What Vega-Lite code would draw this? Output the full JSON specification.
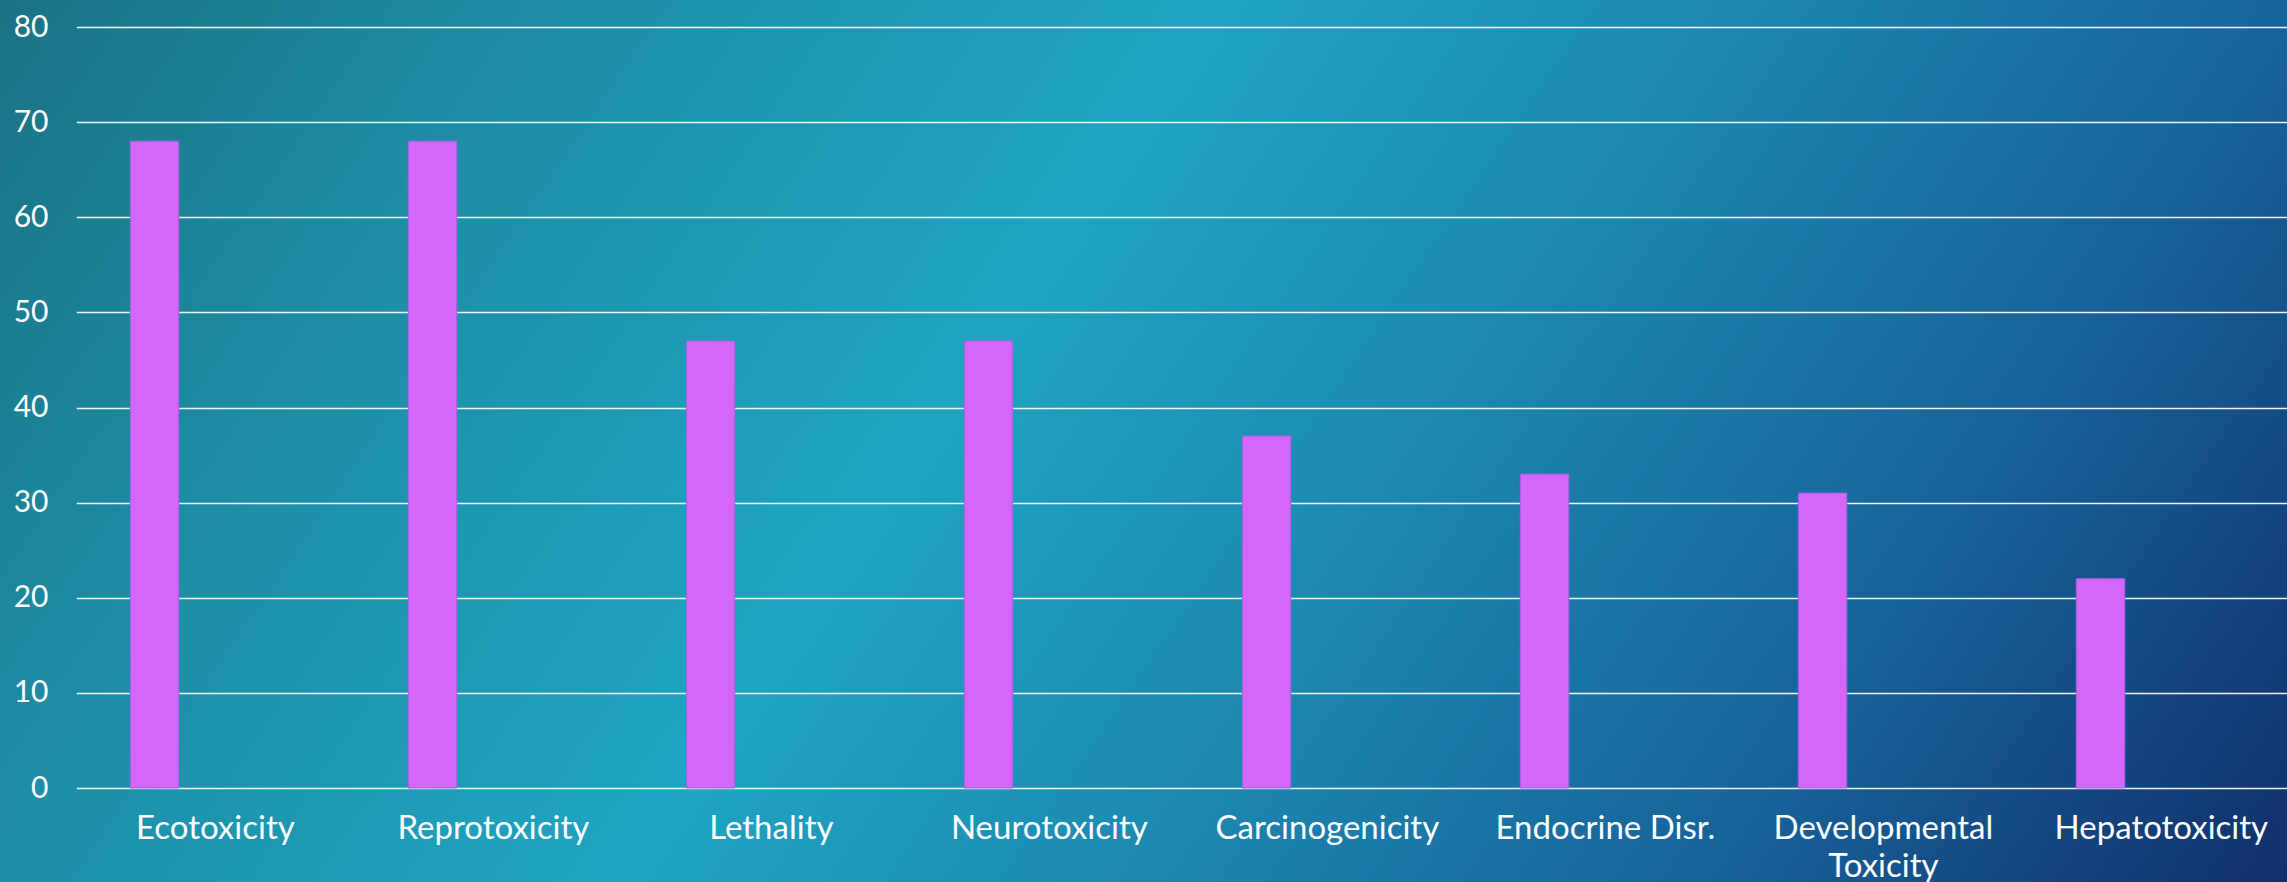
{
  "$schema": "https://vega.github.io/schema/vega-lite/v6.json",
  "width": 2287,
  "height": 882,
  "autosize": "none",
  "padding": 0,
  "background": "#1c8aa3",
  "config": {
    "font": "Lato",
    "view": {
      "stroke": null,
      "fill": {
        "gradient": "linear",
        "x1": 0, "y1": 0, "x2": 1.181, "y2": 0.31,
        "stops": [
          {"offset": 0, "color": "#1a7384"},
          {"offset": 0.2, "color": "#1d8ea6"},
          {"offset": 0.42, "color": "#1fa5c2"},
          {"offset": 0.6, "color": "#1c88b0"},
          {"offset": 0.8, "color": "#17629a"},
          {"offset": 1, "color": "#112f6b"}
        ]
      },
      "fillOpacity": 1
    }
  },
  "data": {
    "values": [
      {"category": "Ecotoxicity", "value": 68},
      {"category": "Reprotoxicity", "value": 68},
      {"category": "Lethality", "value": 47},
      {"category": "Neurotoxicity", "value": 47},
      {"category": "Carcinogenicity", "value": 37},
      {"category": "Endocrine Disr.", "value": 33},
      {"category": "Developmental Toxicity", "value": 31},
      {"category": "Hepatotoxicity", "value": 22}
    ]
  },
  "mark": {"type": "bar", "color": "#d466f8", "stroke": "#9d62e6", "strokeWidth": 1},
  "encoding": {
    "x": {
      "field": "category",
      "type": "nominal",
      "sort": null,
      "scale": {"range": [76.3, 2300.3], "paddingInner": 0.8255, "paddingOuter": 0.41275, "align": 0.2353},
      "axis": {
        "title": null,
        "offset": -94,
        "domain": false,
        "ticks": false,
        "tickSize": 0,
        "grid": false,
        "labelAngle": 0,
        "labelFontSize": 33,
        "labelPadding": 24,
        "labelOffset": 60.8,
        "labelColor": "#ffffff",
        "labelLimit": 500,
        "labelOverlap": false,
        "labelLineHeight": 38,
        "labelExpr": "datum.label == 'Developmental Toxicity' ? ['Developmental', 'Toxicity'] : datum.label"
      }
    },
    "y": {
      "field": "value",
      "type": "quantitative",
      "scale": {"domain": [0, 80], "nice": false, "range": [788, 27]},
      "axis": {
        "title": null,
        "offset": -76,
        "values": [0, 10, 20, 30, 40, 50, 60, 70, 80],
        "domain": false,
        "ticks": false,
        "tickSize": 0,
        "grid": true,
        "gridColor": "#ffffff",
        "gridWidth": 1.4,
        "gridOpacity": 0.92,
        "labelFontSize": 30,
        "labelPadding": 28,
        "labelColor": "#ffffff"
      }
    }
  }
}
